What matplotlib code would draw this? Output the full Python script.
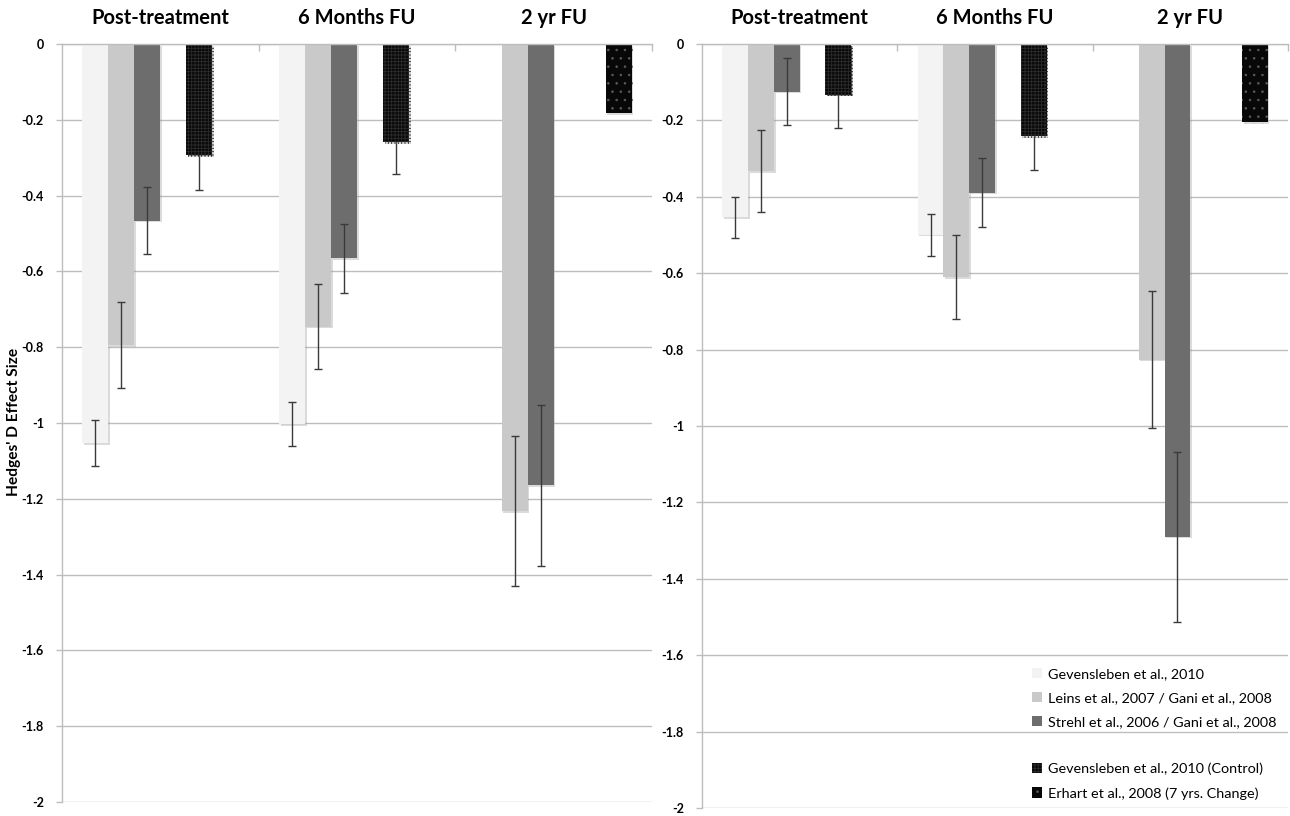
import numpy as np
import matplotlib
matplotlib.use("Agg")
import matplotlib.pyplot as plt
from matplotlib.patches import Patch
import matplotlib.patheffects as pe

plt.rcParams['font.family'] = ['Lato', 'DejaVu Sans']
plt.rcParams['hatch.linewidth'] = 0.6

nan = np.nan
categories = ["Post-treatment", "6 Months FU", "2 yr FU"]
series_names = ["Gevensleben et al., 2010",
                "Leins et al., 2007 / Gani et al., 2008",
                "Strehl et al., 2006 / Gani et al., 2008",
                "Gevensleben et al., 2010 (Control)",
                "Erhart et al., 2008 (7 yrs. Change)"]
yticks = [0, -0.2, -0.4, -0.6, -0.8, -1, -1.2, -1.4, -1.6, -1.8, -2]
ytick_labels = ["0", "-0.2", "-0.4", "-0.6", "-0.8", "-1", "-1.2", "-1.4", "-1.6", "-1.8", "-2"]

# Left panel
gev_L = [-1.053, -1.003, nan]
gev_L_err = [0.061, 0.058, nan]
leins_L = [-0.794, -0.746, -1.233]
leins_L_err = [0.113, 0.112, 0.198]
strehl_L = [-0.466, -0.565, -1.164]
strehl_L_err = [0.089, 0.091, 0.212]
control_L = [-0.294, -0.259, nan]
control_L_err = [0.090, 0.085, nan]
erhart_L = [nan, nan, -0.183]
erhart_L_err = [nan, nan, 0.0]

# Right panel
gev_R = [-0.454, -0.499, nan]
gev_R_err = [0.054, 0.055, nan]
leins_R = [-0.333, -0.611, -0.826]
leins_R_err = [0.108, 0.110, 0.180]
strehl_R = [-0.125, -0.389, -1.290]
strehl_R_err = [0.088, 0.090, 0.222]
control_R = [-0.133, -0.241, nan]
control_R_err = [0.087, 0.088, nan]
erhart_R = [nan, nan, -0.205]
erhart_R_err = [nan, nan, 0.0]

face_colors = ["#f3f3f3", "#c9c9c9", "#6d6d6d", "#080808", "#080808"]
hatches = [None, None, None, "+++++", ".."]
hatch_colors = [None, None, None, "#2c2c2c", "#5a5a5a"]
slots = [0, 1, 2, 4, 5]
bar_w = 0.132
grid_c = "#bdbdbd"

W, H = 1290, 816
fig = plt.figure(figsize=(W / 100, H / 100), dpi=100)
axL = fig.add_axes([62 / W, 1 - 802 / H, 590 / W, 758 / H])
axR = fig.add_axes([702 / W, 1 - 808 / H, 586 / W, 764 / H])

def draw(ax, vals, errs):
    x = np.arange(len(categories))
    for i, (v, e) in enumerate(zip(vals, errs)):
        off = (slots[i] - 2.5) * bar_w
        if hatches[i]:
            kw = dict(hatch=hatches[i], edgecolor=hatch_colors[i], linewidth=0)
        else:
            kw = dict(edgecolor="none", linewidth=0)
        bars = ax.bar(x + off, v, width=bar_w, color=face_colors[i], zorder=2, **kw)
        for b in bars:
            b.set_path_effects([pe.SimplePatchShadow(offset=(1.2, -1.2), shadow_rgbFace="#999999", alpha=0.35), pe.Normal()])
        ev = np.array(v, dtype=float)
        ee = np.array(e, dtype=float)
        m = ~np.isnan(ev) & ~np.isnan(ee) & (np.nan_to_num(ee) > 0)
        if m.any():
            ax.errorbar((x + off)[m], ev[m], yerr=ee[m], fmt="none", ecolor="#3a3a3a",
                        elinewidth=1.0, capsize=3.2, capthick=1.0,
                        zorder=1.5 if hatches[i] else 3)
    ax.set_xlim(-0.5, 2.5)
    ax.set_ylim(-2, 0)
    ax.set_yticks(yticks)
    ax.set_yticklabels(ytick_labels, fontweight="bold", fontsize=9)
    ax.yaxis.grid(True, color=grid_c, linewidth=1.0, zorder=0)
    ax.set_axisbelow(True)
    for s in ["right", "bottom"]:
        ax.spines[s].set_visible(False)
    for s in ["left", "top"]:
        ax.spines[s].set_color(grid_c)
        ax.spines[s].set_linewidth(1.0)
    ax.tick_params(axis="y", length=4, width=1, color=grid_c, pad=9)
    ax.xaxis.set_ticks_position("top")
    ax.set_xticks([0.5, 1.5, 2.5])
    ax.tick_params(axis="x", direction="in", length=5, width=1, color=grid_c, labeltop=False, labelbottom=False)
    for i, c in enumerate(categories):
        ax.text(i, 1.034, c, transform=ax.get_xaxis_transform(), ha="center", va="center",
                fontsize=14.5, fontweight="bold")

draw(axL, [gev_L, leins_L, strehl_L, control_L, erhart_L],
     [gev_L_err, leins_L_err, strehl_L_err, control_L_err, erhart_L_err])
draw(axR, [gev_R, leins_R, strehl_R, control_R, erhart_R],
     [gev_R_err, leins_R_err, strehl_R_err, control_R_err, erhart_R_err])

fig.text(14 / W, 1 - 422 / H, "Hedges' D Effect Size", rotation=90, ha="center", va="center",
         fontsize=11.2, fontweight="bold")

handles = []
labels = []
for i in range(3):
    handles.append(Patch(facecolor=face_colors[i], edgecolor="none"))
    labels.append(series_names[i])
handles.append(Patch(facecolor="none", edgecolor="none"))
labels.append(" ")
for i in range(3, 5):
    handles.append(Patch(facecolor=face_colors[i], hatch=hatches[i], edgecolor=hatch_colors[i], linewidth=0))
    labels.append(series_names[i])
fig.legend(handles, labels, loc="upper left", bbox_to_anchor=(1025 / W, 1 - 661 / H),
           bbox_transform=fig.transFigure, frameon=False, fontsize=10.4, borderpad=0,
           handlelength=0.7, handleheight=0.7, handletextpad=0.4, labelspacing=0.8)

fig.savefig("out.png", dpi=100)
